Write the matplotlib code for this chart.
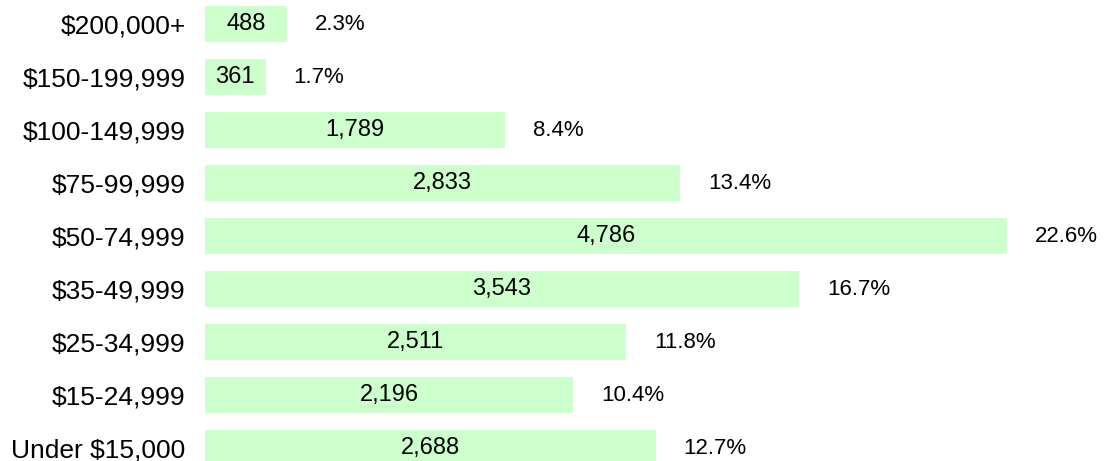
import matplotlib
matplotlib.use("Agg")
import matplotlib.pyplot as plt

categories = ["$200,000+", "$150-199,999", "$100-149,999", "$75-99,999", "$50-74,999",
              "$35-49,999", "$25-34,999", "$15-24,999", "Under $15,000"]
counts = [488, 361, 1789, 2833, 4786, 3543, 2511, 2196, 2688]
pct_labels = ["2.3%", "1.7%", "8.4%", "13.4%", "22.6%", "16.7%", "11.8%", "10.4%", "12.7%"]

plt.rcParams['font.family'] = ['Liberation Sans', 'DejaVu Sans']

fig = plt.figure(figsize=(11.05, 4.61), dpi=100)
ax = fig.add_axes([205 / 1105, 0, 900 / 1105, 1])

ypos = list(range(len(categories)))
bars = ax.barh(ypos, counts, height=0.68, color="#CCFFCC", edgecolor="none")

ax.set_xlim(0, 5370)
ax.set_ylim(8.245, -0.453)

ax.set_yticks(ypos)
ax.set_yticklabels(categories, fontsize=19, color="black")
ax.tick_params(axis="y", length=0, pad=14)
ax.set_xticks([])
for s in ax.spines.values():
    s.set_visible(False)

for b, c, p in zip(bars, counts, pct_labels):
    yc = b.get_y() + b.get_height() / 2
    ax.text(c / 2, yc, f"{c:,}", ha="center", va="center", fontsize=17, color="black")
    ax.annotate(p, xy=(c, yc), xytext=(28, 0), textcoords="offset pixels",
                ha="left", va="center", fontsize=16, color="black")

fig.savefig("out.png", dpi=100)
